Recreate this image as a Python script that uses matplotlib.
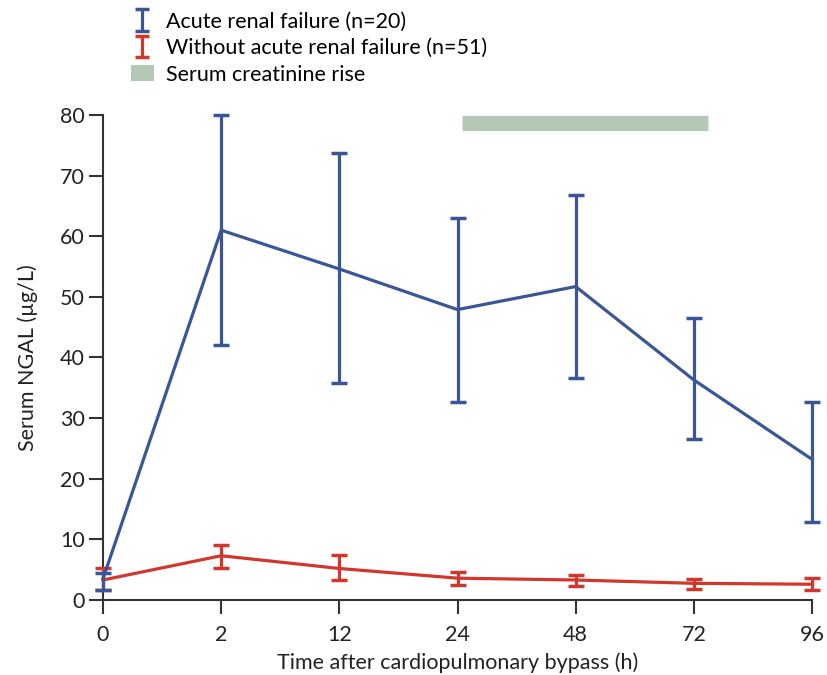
import matplotlib
matplotlib.use("Agg")
import matplotlib.pyplot as plt
import numpy as np
from matplotlib.patches import Patch

plt.rcParams['font.family'] = ['Lato', 'DejaVu Sans']

time_labels = ["0", "2", "12", "24", "48", "72", "96"]

arf_mean = [3.5, 61.0, 54.6, 47.9, 51.7, 36.3, 23.2]
arf_low = [1.7, 42.0, 35.8, 32.7, 36.6, 26.5, 12.9]
arf_high = [4.5, 80.0, 73.7, 63.0, 66.8, 46.5, 32.7]

noarf_mean = [3.3, 7.3, 5.2, 3.6, 3.3, 2.75, 2.6]
noarf_low = [1.6, 5.3, 3.3, 2.5, 2.3, 1.8, 1.6]
noarf_high = [5.3, 9.1, 7.4, 4.7, 4.2, 3.5, 3.7]

creat_start = 3.04
creat_end = 5.12
creat_level = 78.6

blue = "#3b5696"
red = "#d0382f"
green = "#b3c9b6"
axcol = "#333333"

fig = plt.figure(figsize=(8.27, 6.75), dpi=100)
ax = fig.add_axes([103/827, 1-600/675, (812-103)/827, (600-115)/675])

x = np.arange(len(time_labels))

def draw(mean, low, high, color, z):
    mean = np.array(mean); low = np.array(low); high = np.array(high)
    yerr = np.vstack([mean - low, high - mean])
    ax.errorbar(x, mean, yerr=yerr, color=color, lw=2.3, elinewidth=2.3,
                capsize=6, capthick=2.5, clip_on=False, zorder=z)

draw(noarf_mean, noarf_low, noarf_high, red, 3)
draw(arf_mean, arf_low, arf_high, blue, 4)

ax.plot([creat_start, creat_end], [creat_level, creat_level], color=green,
        lw=11, solid_capstyle='butt', clip_on=False)

ax.set_xlim(0, 6)
ax.set_ylim(0, 80)
ax.set_xticks(x)
ax.set_xticklabels(time_labels)
ax.set_yticks(np.arange(0, 81, 10))

for s in ['top', 'right']:
    ax.spines[s].set_visible(False)
for s in ['left', 'bottom']:
    ax.spines[s].set_color(axcol)
    ax.spines[s].set_linewidth(1.5)
ax.tick_params(axis='both', colors=axcol, width=1.5, length=10, labelsize=15.5,
               labelcolor='#222222')
ax.tick_params(axis='x', pad=8)
ax.tick_params(axis='y', pad=3)

ax.set_xlabel("Time after cardiopulmonary bypass (h)", fontsize=15.5, color='#222222', labelpad=5)
ax.set_ylabel("Serum NGAL (µg/L)", fontsize=15.5, color='#222222', labelpad=16)

h1 = ax.errorbar([np.nan], [np.nan], yerr=[[1], [1]], fmt='none', ecolor=blue,
                 elinewidth=2.3, capsize=5, capthick=2.5)
h2 = ax.errorbar([np.nan], [np.nan], yerr=[[1], [1]], fmt='none', ecolor=red,
                 elinewidth=2.3, capsize=5, capthick=2.5)
h3 = Patch(facecolor=green, edgecolor='none')

leg = fig.legend([h1, h2, h3],
                 ["Acute renal failure (n=20)", "Without acute renal failure (n=51)",
                  "Serum creatinine rise"],
                 loc='upper left', bbox_to_anchor=(122/827, 1-3/675), frameon=False,
                 fontsize=15.5, handlelength=1.1, handletextpad=0.55, labelspacing=0.3,
                 borderaxespad=0)

fig.savefig("out.png", dpi=100, facecolor='white')
